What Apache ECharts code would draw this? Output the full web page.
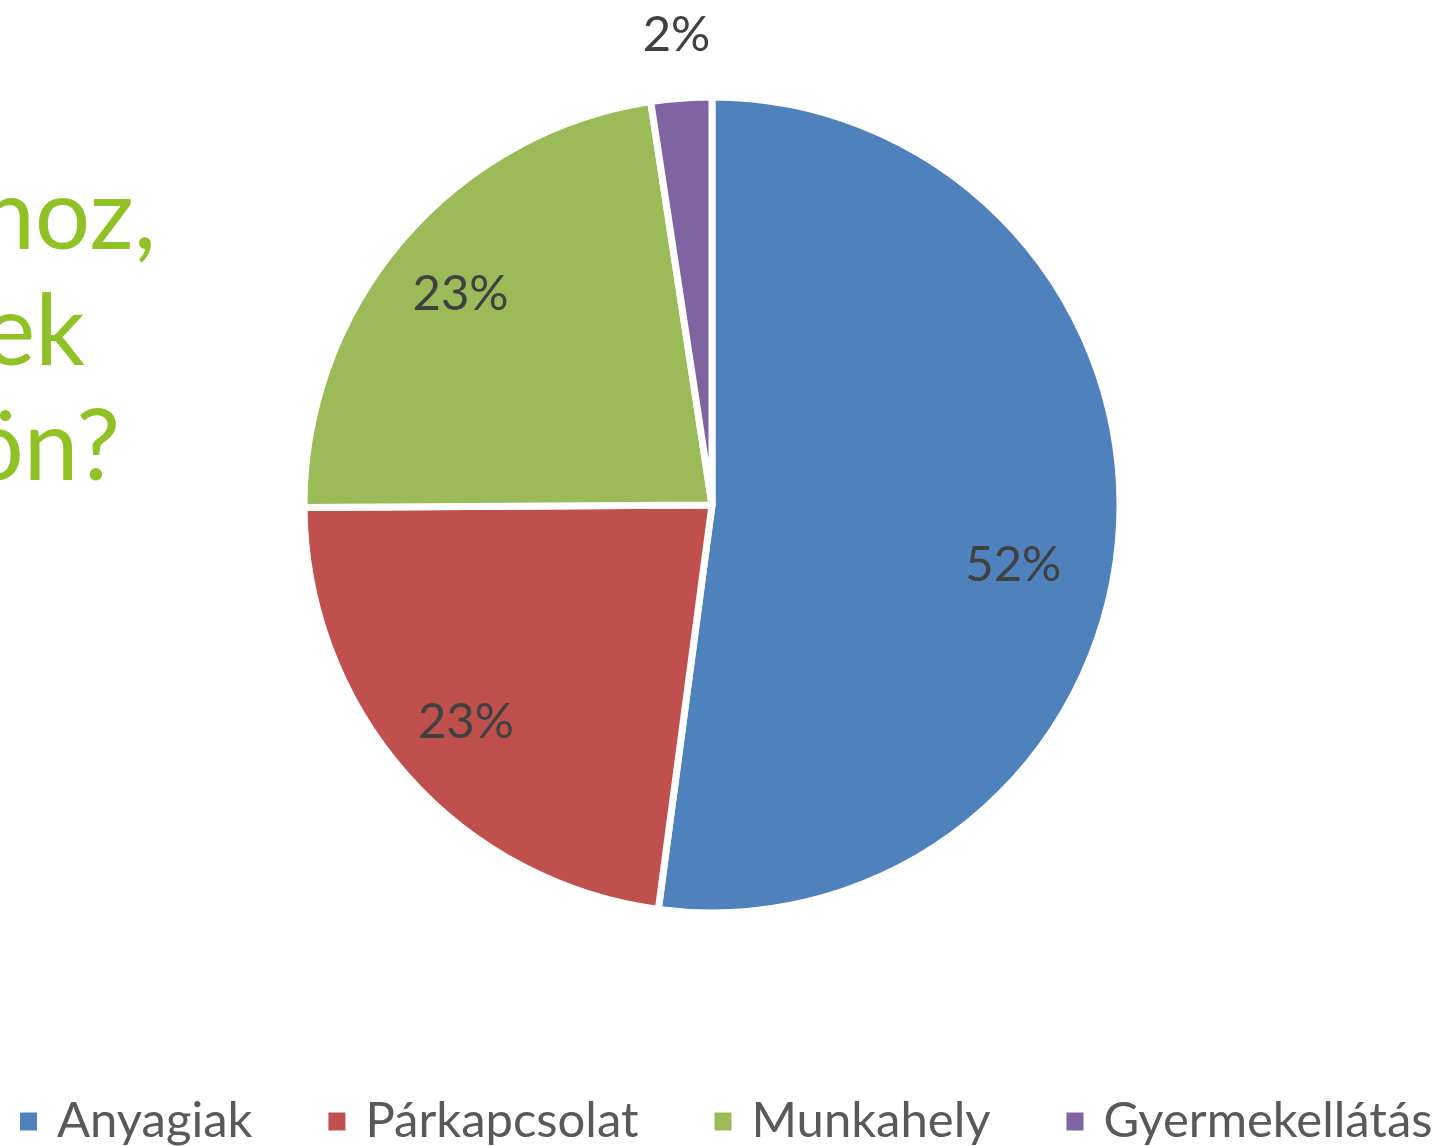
<!DOCTYPE html>
<html>
<head>
<meta charset="utf-8">
<script src="https://cdn.jsdelivr.net/npm/echarts@6/dist/echarts.min.js"></script>
<style>
html, body { margin: 0; padding: 0; background: #fff; overflow: hidden; }
#main { width: 1439px; height: 1146px; }
</style>
</head>
<body>
<div id="main"></div>
<script>
// data
var categories = ['Anyagiak', 'Párkapcsolat', 'Munkahely', 'Gyermekellátás'];
var values = [52.1, 22.8, 22.7, 2.4];
var colors = ['#4F81BD', '#C0504D', '#9BBB59', '#8064A2'];
// cut-off slide title on the left
var titleLines = ['noz,', 'ek', 'ön?'];

var myChart = echarts.init(document.getElementById('main'));

var FONT = 'Lato, "Noto Sans", sans-serif';
var center = [712, 505];
var labelOffsets = [[-26, 39], [0, 0], [-2, 2], [0, 0]];

function pct(p) {
    return Math.round(p.percent) + '%';
}

var pieData = categories.map(function (name, i) {
    return { name: name, value: values[i], itemStyle: { color: colors[i] } };
});

// invisible pies, only used to place the percent labels
function labelData(showIdx) {
    return categories.map(function (name, i) {
        return {
            name: name,
            value: values[i],
            itemStyle: { color: 'rgba(0,0,0,0)', borderWidth: 0 },
            label: { show: showIdx.indexOf(i) >= 0, offset: labelOffsets[i] }
        };
    });
}

var labelStyle = {
    position: 'inside',
    formatter: pct,
    color: '#404040',
    fontFamily: FONT,
    fontSize: 49
};

var option = {
    animation: false,
    legend: {
        data: categories,
        left: 18,
        bottom: 0,
        width: 1421,
        padding: 0,
        itemWidth: 19,
        itemHeight: 20,
        itemGap: 74,
        icon: 'rect',
        textStyle: {
            color: '#595959',
            fontFamily: FONT,
            fontSize: 49,
            padding: [0, 0, 0, 14]
        }
    },
    graphic: titleLines.map(function (t, i) {
        return {
            type: 'text',
            x: [156, 85, 120][i],
            y: [217, 333, 448][i],
            style: {
                text: t,
                fill: '#90C226',
                font: '98px ' + FONT,
                align: 'right',
                verticalAlign: 'middle'
            }
        };
    }),
    series: [
        {
            name: 'main',
            type: 'pie',
            center: center,
            radius: [0, 408],
            startAngle: 90,
            clockwise: true,
            silent: true,
            itemStyle: { borderColor: '#fff', borderWidth: 7 },
            label: { show: false },
            labelLine: { show: false },
            data: pieData
        },
        {
            name: 'labels',
            type: 'pie',
            center: center,
            radius: [0, 650],
            startAngle: 90,
            silent: true,
            avoidLabelOverlap: false,
            label: labelStyle,
            labelLine: { show: false },
            data: labelData([0, 1, 2])
        },
        {
            name: 'labelsOuter',
            type: 'pie',
            center: center,
            radius: [0, 936],
            startAngle: 90,
            silent: true,
            avoidLabelOverlap: false,
            label: labelStyle,
            labelLine: { show: false },
            data: labelData([3])
        }
    ]
};

myChart.setOption(option);
</script>
</body>
</html>
